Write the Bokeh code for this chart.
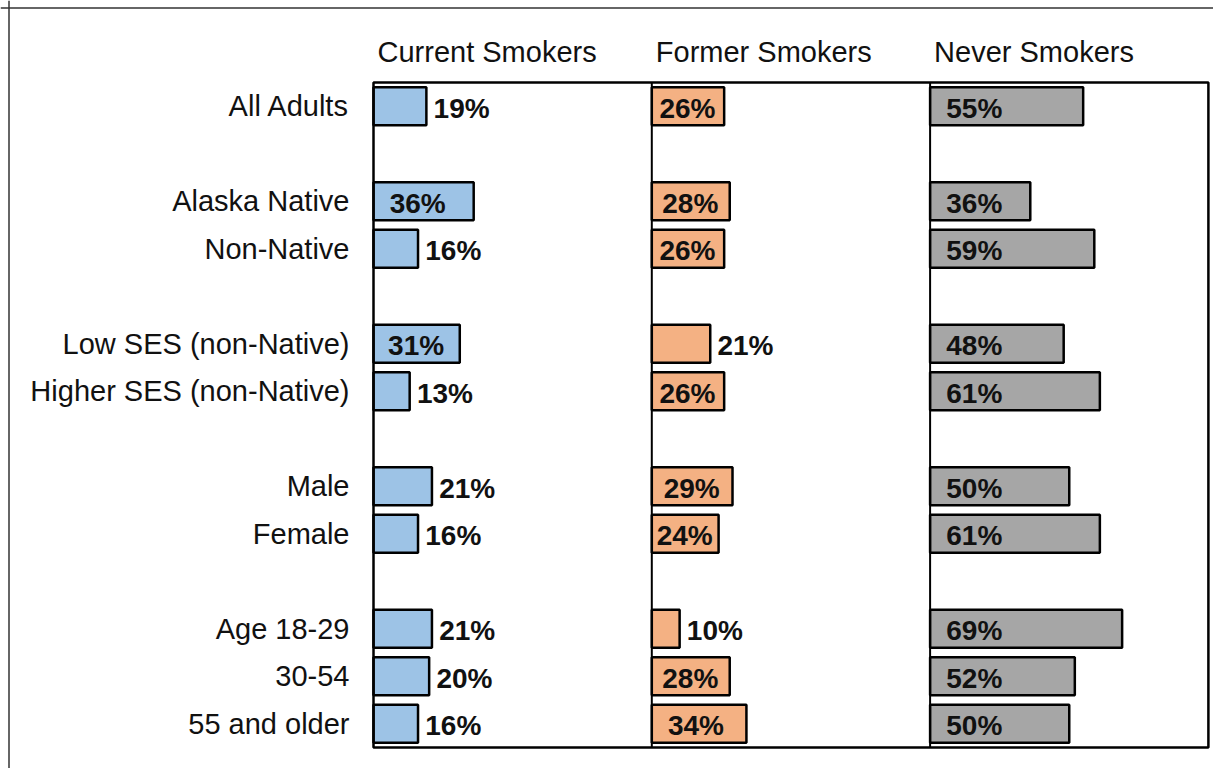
from bokeh.plotting import figure
from bokeh.models import ColumnDataSource, Range1d, Span
from bokeh.core.properties import value
from bokeh.embed import file_html
from bokeh.resources import INLINE

# ---- data ----
categories = ["All Adults", "Alaska Native", "Non-Native", "Low SES (non-Native)",
              "Higher SES (non-Native)", "Male", "Female", "Age 18-29", "30-54", "55 and older"]
rows = [0, 2, 3, 5, 6, 8, 9, 11, 12, 13]
panels = ["Current Smokers", "Former Smokers", "Never Smokers"]
current = [19, 36, 16, 31, 13, 21, 16, 21, 20, 16]
former = [26, 28, 26, 21, 26, 29, 24, 10, 28, 34]
never = [55, 36, 59, 48, 61, 50, 61, 69, 52, 50]
current_inside = [False, True, False, True, False, False, False, False, False, False]
former_inside = [True, True, True, False, True, True, True, False, True, True]
never_inside = [True] * 10

series = [current, former, never]
inside = [current_inside, former_inside, never_inside]
colors = ["#9DC3E6", "#F4B183", "#A6A6A6"]
panel_width = 100
n_rows = 14

W, H = 1213, 768
px_per_unit = 2.783
frame_left_px = 373
row_px = 47.5
frame_top_px = 82

x0 = -frame_left_px / px_per_unit
x1 = x0 + W / px_per_unit
y_top = -0.5 - frame_top_px / row_px
y_bot = y_top + H / row_px

p = figure(width=W, height=H, x_range=Range1d(x0, x1), y_range=Range1d(y_bot, y_top),
           x_axis_type=None, y_axis_type=None, output_backend="svg",
           toolbar_location=None, min_border=0)
p.outline_line_color = None
p.xgrid.visible = False
p.ygrid.visible = False
p.background_fill_color = "white"
p.border_fill_color = "white"

FONT = value("Liberation Sans")
TXT = "#111111"
FS = "29px"
FSB = "28px"

# outer border (top/left)
p.add_layout(Span(location=x0 + 8.5 / px_per_unit, dimension="height",
                  line_color="#333333", line_width=1.5))
p.add_layout(Span(location=y_top + 7.5 / row_px, dimension="width",
                  line_color="#333333", line_width=1.5))

# bars and labels
text_units = 20.5  # approx width of a "NN%" label in data units
for k, (vals, ins, col) in enumerate(zip(series, inside, colors)):
    off = k * panel_width
    src = ColumnDataSource(dict(y=rows, left=[off] * len(vals),
                                right=[off + v for v in vals]))
    p.hbar(y="y", left="left", right="right", height=0.8, source=src,
           fill_color=col, line_color="black", line_width=2.5)
    lx, lt = [], []
    for v, i in zip(vals, ins):
        if i:
            lx.append(off + max(1.0, min(5.8, (v - text_units) / 2)))
        else:
            lx.append(off + v + 2.6)
        lt.append(f"{v}%")
    lsrc = ColumnDataSource(dict(x=lx, y=rows, t=lt))
    p.text(x="x", y="y", text="t", source=lsrc, text_font=FONT, text_font_size=FSB,
           text_font_style="bold", text_color=TXT, text_baseline="middle",
           text_align="left", y_offset=2)

# frame box and panel dividers
p.quad(left=[0], right=[3 * panel_width], top=[-0.5], bottom=[n_rows - 0.5],
       fill_color=None, line_color="black", line_width=2.5)
p.segment(x0=[panel_width, 2 * panel_width], x1=[panel_width, 2 * panel_width],
          y0=[-0.5, -0.5], y1=[n_rows - 0.5, n_rows - 0.5],
          line_color="black", line_width=2)

# category labels
csrc = ColumnDataSource(dict(x=[0] * len(categories), y=rows, t=categories))
p.text(x="x", y="y", text="t", source=csrc, text_font=FONT, text_font_size=FS,
       text_color=TXT, text_baseline="middle", text_align="right", x_offset=-24, y_offset=0)

# panel headers
hsrc = ColumnDataSource(dict(x=[k * panel_width for k in range(3)], y=[-1.15] * 3, t=panels))
p.text(x="x", y="y", text="t", source=hsrc, text_font=FONT, text_font_size=FS,
       text_color=TXT, text_baseline="middle", text_align="left", x_offset=4)

open("out.html", "w").write(file_html(p, INLINE))
